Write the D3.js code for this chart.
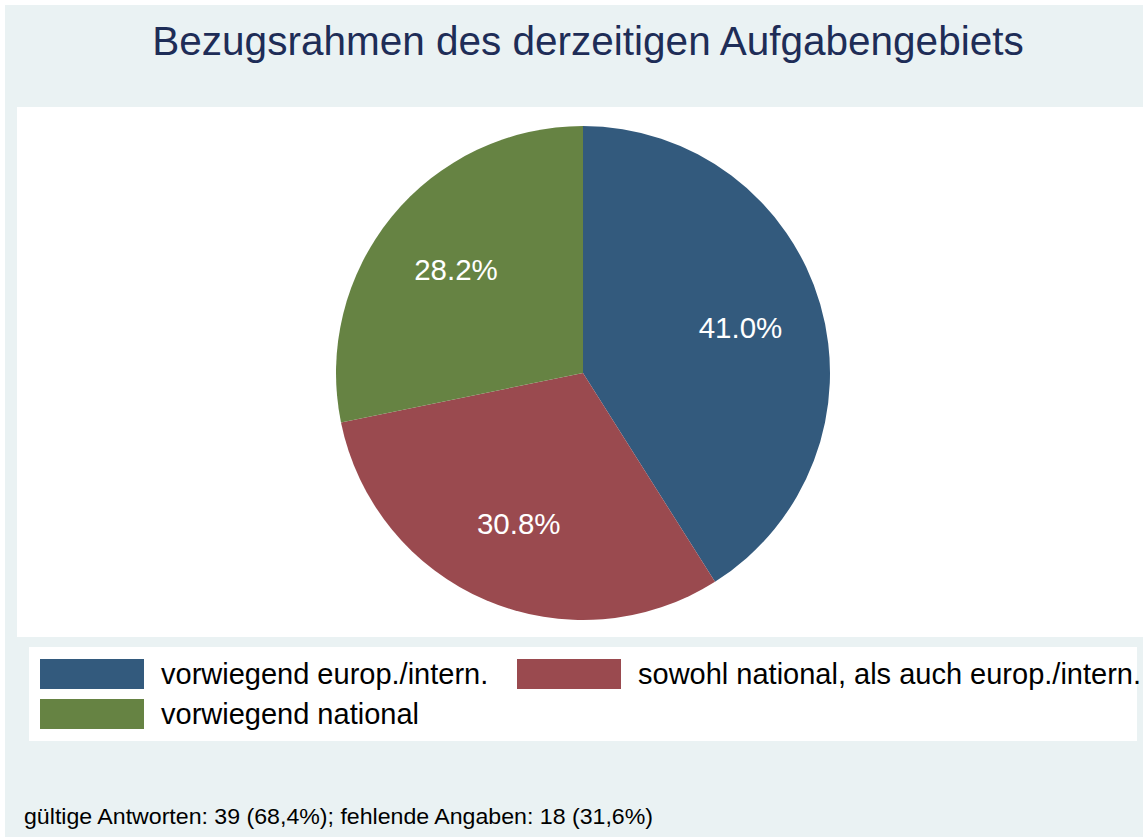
<!DOCTYPE html>
<html>
<head>
<meta charset="utf-8">
<script src="https://cdn.jsdelivr.net/npm/d3@7"></script>
<style>
  body { margin: 0; background: #fff; }
  text { font-family: "Liberation Sans", Arial, sans-serif; }
</style>
</head>
<body>
<div id="vis"></div>
<script>
// data
var categories = ["vorwiegend europ./intern.", "sowohl national, als auch europ./intern.", "vorwiegend national"];
var counts = [16, 12, 11]; // 39 valid answers
var colors = ["#335a7d", "#9a4a4f", "#668343"];
var title = "Bezugsrahmen des derzeitigen Aufgabengebiets";
var note = "gültige Antworten: 39 (68,4%); fehlende Angaben: 18 (31,6%)";

var width = 1143, height = 837;
var total = d3.sum(counts);
var fmt = d3.format(".1f");

var svg = d3.select("#vis").append("svg")
	.attr("width", width)
	.attr("height", height);

// graph region
svg.append("rect")
	.attr("x", 5).attr("y", 5)
	.attr("width", width - 5).attr("height", height - 5)
	.attr("fill", "#eaf2f3");

// plot region
svg.append("rect")
	.attr("x", 17).attr("y", 107)
	.attr("width", width - 17).attr("height", 530)
	.attr("fill", "#ffffff");

svg.append("text")
	.attr("x", 588).attr("y", 55)
	.attr("text-anchor", "middle")
	.attr("font-size", 40.5)
	.attr("fill", "#1e2d57")
	.text(title);

// pie, starts at 12 o'clock, clockwise
var pie = d3.pie().sort(null).value(function(d) { return d; });
var arcs = pie(counts);
var radius = 247;
var arc = d3.arc().innerRadius(0).outerRadius(radius);
var labelArc = d3.arc().innerRadius(164).outerRadius(164);

var g = svg.append("g")
	.attr("transform", "translate(583,373)");

g.selectAll("path")
	.data(arcs)
	.enter().append("path")
	.attr("d", arc)
	.attr("fill", function(d, i) { return colors[i]; });

g.selectAll("text")
	.data(arcs)
	.enter().append("text")
	.attr("transform", function(d) { return "translate(" + labelArc.centroid(d) + ")"; })
	.attr("text-anchor", "middle")
	.attr("dy", "0.35em")
	.attr("font-size", 29.5)
	.attr("fill", "#ffffff")
	.text(function(d) { return fmt(d.data / total * 100) + "%"; });

// legend
svg.append("rect")
	.attr("x", 29).attr("y", 647)
	.attr("width", 1108).attr("height", 94)
	.attr("fill", "#ffffff");

var legendPos = [[40, 659], [517, 659], [40, 699]];
var legend = svg.selectAll(".legend")
	.data(categories)
	.enter().append("g")
	.attr("class", "legend")
	.attr("transform", function(d, i) { return "translate(" + legendPos[i][0] + "," + legendPos[i][1] + ")"; });

legend.append("rect")
	.attr("width", 104).attr("height", 30)
	.attr("fill", function(d, i) { return colors[i]; });

legend.append("text")
	.attr("x", 121).attr("y", 25)
	.attr("font-size", 29)
	.attr("fill", "#000")
	.text(function(d) { return d; });

svg.append("text")
	.attr("x", 24).attr("y", 824)
	.attr("font-size", 22)
	.attr("font-family", "'Liberation Sans Narrow', 'Liberation Sans', Arial, sans-serif")
	.attr("textLength", 629)
	.attr("lengthAdjust", "spacingAndGlyphs")
	.attr("fill", "#000")
	.text(note);
</script>
</body>
</html>
